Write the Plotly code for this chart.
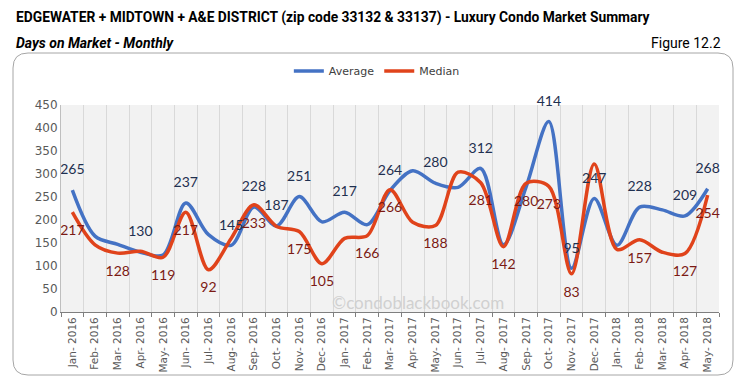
import plotly.graph_objects as go

months = ["Jan- 2016","Feb- 2016","Mar- 2016","Apr- 2016","May- 2016","Jun- 2016","Jul- 2016","Aug- 2016",
          "Sep- 2016","Oct- 2016","Nov- 2016","Dec- 2016","Jan- 2017","Feb- 2017","Mar- 2017","Apr- 2017",
          "May- 2017","Jun- 2017","Jul- 2017","Aug- 2017","Sep- 2017","Oct- 2017","Nov- 2017","Dec- 2017",
          "Jan- 2018","Feb- 2018","Mar- 2018","Apr- 2018","May- 2018"]
average = [265,165,147,130,124,237,168,145,228,187,251,196,217,190,264,307,280,271,312,146,272,414,95,247,145,228,222,209,268]
median  = [217,146,128,132,119,217,92,160,233,186,175,105,160,166,266,195,188,304,281,142,280,273,83,322,136,157,130,127,254]
avg_labeled = [0,3,5,7,8,9,10,12,14,16,18,21,22,23,25,27,28]
med_labeled = [0,2,4,5,6,8,10,11,13,14,16,18,19,20,21,22,25,27,28]
y_ticks = [0,50,100,150,200,250,300,350,400,450]

W, H = 739, 391
L, R, T, B = 61, 20, 105, 79
PW, PH = W - L - R, H - T - B

def px(x):
    return (x - L) / PW
def py(y):
    return 1 - (y - T) / PH

avg_text = [str(v) if i in avg_labeled else "" for i, v in enumerate(average)]
med_text = [str(v) if i in med_labeled else "" for i, v in enumerate(median)]

fig = go.Figure()
fig.add_trace(go.Scatter(
    x=months, y=average, name="Average", mode="lines",
    line=dict(color="#4472C4", width=3.5, shape="spline", smoothing=0.9),
    hoverinfo="skip",
))
fig.add_trace(go.Scatter(
    x=months, y=median, name="Median", mode="lines",
    line=dict(color="#E0431B", width=3.5, shape="spline", smoothing=0.9),
    hoverinfo="skip",
))
fig.add_trace(go.Scatter(
    x=months, y=average, mode="markers+text", showlegend=False, cliponaxis=False,
    marker=dict(size=18, opacity=0, color="#4472C4"),
    text=avg_text, textposition="top center", hoverinfo="skip",
    textfont=dict(family="Lato, Open Sans, sans-serif", size=14, color="#1F3050"),
))
fig.add_trace(go.Scatter(
    x=months, y=median, mode="markers+text", showlegend=False, cliponaxis=False,
    marker=dict(size=18, opacity=0, color="#E0431B"),
    text=med_text, textposition="bottom center", hoverinfo="skip",
    textfont=dict(family="Lato, Open Sans, sans-serif", size=14, color="#7B1A14"),
))

# rounded border
x0, x1, y0, y1, r = px(13), px(733), py(53), py(375), 15
rx, ry = r / PW, r / PH
path = (f"M {x0+rx},{y0} L {x1-rx},{y0} Q {x1},{y0} {x1},{y0-ry} "
        f"L {x1},{y1+ry} Q {x1},{y1} {x1-rx},{y1} L {x0+rx},{y1} Q {x0},{y1} {x0},{y1+ry} "
        f"L {x0},{y0-ry} Q {x0},{y0} {x0+rx},{y0} Z")
fig.add_shape(type="path", path=path, xref="paper", yref="paper",
              line=dict(color="#A6A6A6", width=1), layer="below")

fig.add_annotation(text="<b>EDGEWATER + MIDTOWN + A&amp;E DISTRICT (zip code 33132 &amp; 33137) - Luxury Condo Market Summary</b>",
                   x=px(14), y=py(18), xref="paper", yref="paper", xanchor="left", yanchor="middle",
                   showarrow=False, font=dict(family="Roboto, sans-serif", size=13.8, color="#000000"))
fig.add_annotation(text="<b><i>Days on Market - Monthly</i></b>",
                   x=px(14), y=py(43), xref="paper", yref="paper", xanchor="left", yanchor="middle",
                   showarrow=False, font=dict(family="Roboto, sans-serif", size=14, color="#000000"))
fig.add_annotation(text="Figure 12.2",
                   x=px(723), y=py(43), xref="paper", yref="paper", xanchor="right", yanchor="middle",
                   showarrow=False, font=dict(family="Roboto, sans-serif", size=14, color="#000000"))
fig.add_annotation(text="©condoblackbook.com",
                   x=px(418), y=py(302), xref="paper", yref="paper", xanchor="center", yanchor="middle",
                   showarrow=False, font=dict(family="Lato, Open Sans, sans-serif", size=17, color="#D0D0D0"))

fig.update_layout(
    width=W, height=H,
    margin=dict(l=L, r=R, t=T, b=B, autoexpand=False),
    paper_bgcolor="white", plot_bgcolor="#F2F2F2",
    showlegend=True, hovermode=False,
    legend=dict(orientation="h", x=0.48, xanchor="center", y=py(71), yanchor="middle",
                font=dict(family="DejaVu Sans, sans-serif", size=11, color="#404040"),
                itemwidth=30, bgcolor="rgba(0,0,0,0)"),
    xaxis=dict(type="category", categoryorder="array", categoryarray=months,
               range=[-0.5, len(months) - 0.5], tickson="boundaries",
               showgrid=True, gridcolor="#D9D9D9", gridwidth=1,
               ticks="outside", ticklen=4, tickcolor="#7F7F7F",
               showline=True, linecolor="#7F7F7F", linewidth=1,
               tickangle=-90, tickfont=dict(family="DejaVu Sans, sans-serif", size=10.5, color="#595959")),
    yaxis=dict(range=[0, 450], tickvals=y_ticks, showgrid=False, zeroline=False,
               showline=True, linecolor="#BFBFBF", linewidth=1,
               ticks="", tickfont=dict(family="DejaVu Sans, sans-serif", size=12, color="#595959")),
)

fig.write_html("out.html", config={"displayModeBar": False},
               post_script="document.body.style.margin='0';document.body.style.padding='0';")
